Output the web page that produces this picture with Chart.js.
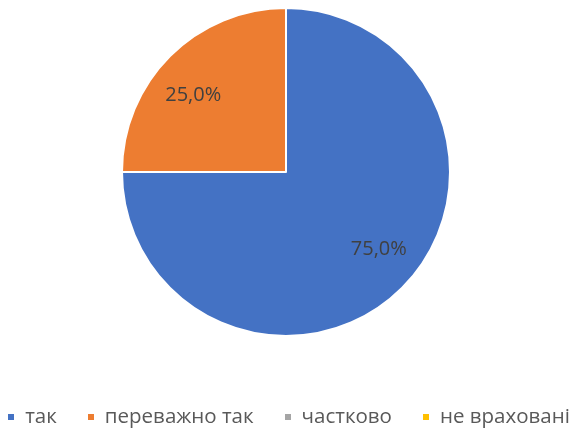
<!DOCTYPE html>
<html lang="uk">
<head>
    <meta charset="UTF-8">
    <title>Pie chart</title>
    <script src="https://cdn.jsdelivr.net/npm/chart.js"></script>
    <style>
        html, body { margin: 0; padding: 0; background: #fff; }
        #wrap { position: relative; width: 575px; height: 429px; }
        #legend {
            position: absolute;
            left: 3px;
            right: 0;
            top: 401px;
            display: flex;
            justify-content: center;
            font-family: "Open Sans", sans-serif;
            font-size: 20.5px;
            line-height: 28px;
            color: #595959;
            white-space: nowrap;
        }
        .item { display: flex; align-items: center; margin: 0 15.5px; }
        .box { width: 6px; height: 6px; margin-right: 11px; position: relative; top: 2px; }
    </style>
</head>
<body>
<div id="wrap">
    <canvas id="pie"></canvas>
    <div id="legend"></div>
</div>
<script>
    const categories = ['так', 'переважно так', 'частково', 'не враховані'];
    const shares = [75, 25, 0, 0];
    const colors = ['#4472C4', '#ED7D31', '#A5A5A5', '#FFC000'];

    // percent labels inside the slices
    const sliceLabels = {
        id: 'sliceLabels',
        afterDatasetsDraw(chart) {
            const ctx = chart.ctx;
            const meta = chart.getDatasetMeta(0);
            ctx.save();
            ctx.font = '20px "Open Sans", sans-serif';
            ctx.fillStyle = '#404040';
            ctx.textAlign = 'center';
            ctx.textBaseline = 'middle';
            meta.data.forEach((arc, i) => {
                if (!shares[i]) return;
                const mid = (arc.startAngle + arc.endAngle) / 2;
                const x = arc.x + Math.cos(mid) * arc.outerRadius * 0.80;
                const y = arc.y + Math.sin(mid) * arc.outerRadius * 0.665;
                ctx.fillText(shares[i].toFixed(1).replace('.', ',') + '%', x, y);
            });
            ctx.restore();
        }
    };

    const chart = new Chart(document.getElementById('pie'), {
        type: 'pie',
        data: {
            labels: categories,
            datasets: [{
                data: shares,
                backgroundColor: colors,
                borderColor: '#ffffff',
                borderWidth: 2
            }]
        },
        options: {
            responsive: true,
            maintainAspectRatio: false,
            animation: false,
            layout: { padding: { top: 7, bottom: 92, right: 3 } },
            plugins: {
                tooltip: { enabled: false },
                legend: { display: false }
            }
        },
        plugins: [sliceLabels]
    });

    // html legend built from the chart's own labels
    const legend = document.getElementById('legend');
    chart.options.plugins.legend.labels.generateLabels(chart).forEach(l => {
        const item = document.createElement('div');
        item.className = 'item';
        const box = document.createElement('span');
        box.className = 'box';
        box.style.background = l.fillStyle;
        item.appendChild(box);
        item.appendChild(document.createTextNode(l.text));
        legend.appendChild(item);
    });
</script>
</body>
</html>
